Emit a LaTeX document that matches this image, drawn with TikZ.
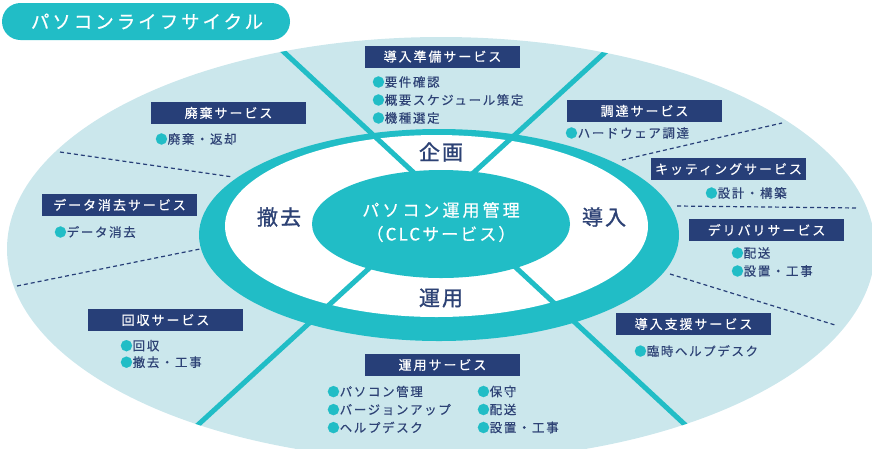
\documentclass[tikz,border=0pt]{standalone}
\usepackage{fontspec}
\setmainfont{Noto Sans CJK JP}
\definecolor{lb}{HTML}{CBE7EC}
\definecolor{tl}{HTML}{21BDC6}
\definecolor{nv}{HTML}{273F78}
\definecolor{tx}{HTML}{2D4275}
\newcommand{\bdot}{\textcolor{tl}{●}}
\tikzset{
  boxlbl/.style={fill=nv, text=white, minimum width=155pt, minimum height=22pt, inner sep=0pt,
    font=\fontsize{13}{13}\selectfont\addfontfeatures{LetterSpace=15,FakeBold=0.5}},
  bul/.style={anchor=west, text=tx, inner sep=0pt, align=left,
    font=\fontsize{12.5}{18}\selectfont\addfontfeatures{LetterSpace=13,FakeBold=0.4}},
  bigl/.style={text=tx, inner sep=0pt, font=\fontsize{21}{21}\selectfont\addfontfeatures{LetterSpace=10,FakeBold=1.2}},
  dline/.style={nv, line width=1.2pt, dash pattern=on 4pt off 3pt},
  tline/.style={tl, line width=5pt},
}
\begin{document}
\begin{tikzpicture}[x=1pt,y=-1pt]
\useasboundingbox (0,0) rectangle (872,448);
% big light ellipse
\fill[lb] (441,249) ellipse [x radius=434pt, y radius=212pt];
% dashed separators
\coordinate (d1a) at (622,160); \coordinate (d1b) at (782,123);
\coordinate (d2a) at (677,206); \coordinate (d2b) at (858,208);
\coordinate (d3a) at (670,274); \coordinate (d3b) at (835,325);
\coordinate (d4a) at (60,152);  \coordinate (d4b) at (233,177);
\coordinate (d5a) at (17,286);  \coordinate (d5b) at (200,249);
\draw[dline] (d1a) -- (d1b);
\draw[dline] (d2a) -- (d2b);
\draw[dline] (d3a) -- (d3b);
\draw[dline] (d4a) -- (d4b);
\draw[dline] (d5a) -- (d5b);
% teal ring and white interior
\fill[tl] (439,235) ellipse [x radius=240pt, y radius=106pt];
\fill[white] (436.5,226) ellipse [x radius=211.5pt, y radius=91pt];
% teal diagonal lines
\coordinate (l1a) at (250,20.5); \coordinate (l1b) at (730,466.5);
\coordinate (l2a) at (650,11.25); \coordinate (l2b) at (150,468.75);
\begin{scope}
  \clip (441,249) ellipse [x radius=434pt, y radius=212pt];
  \draw[tline] (l1a) -- (l1b);
  \draw[tline] (l2a) -- (l2b);
\end{scope}
% centre ellipse
\fill[tl] (441,224) ellipse [x radius=129pt, y radius=54pt];
\node[text=white, inner sep=0pt, font=\fontsize{17}{17}\selectfont\addfontfeatures{LetterSpace=18,FakeBold=0.4}] (c1) at (441,210) {パソコン運用管理};
\node[text=white, inner sep=0pt, font=\fontsize{17}{17}\selectfont\addfontfeatures{LetterSpace=12,FakeBold=0.4}] (c2) at (441,234) {（CLCサービス）};
% phase labels
\node[bigl] (p1) at (441,152) {企画};
\node[bigl] (p2) at (279,217) {撤去};
\node[bigl] (p3) at (604,217) {導入};
\node[bigl] (p4) at (441,298) {運用};
% title pill
\fill[tl, rounded corners=18.5pt] (2,3) rectangle (290,40);
\node[text=white, inner sep=0pt, font=\fontsize{18.5}{18.5}\selectfont\addfontfeatures{LetterSpace=16,FakeBold=0.5}] (title) at (147,21.5) {パソコンライフサイクル};
% service boxes
\node[boxlbl] (s1) at (442.5,56.5) {導入準備サービス};
\node[boxlbl] (s2) at (644.5,111) {調達サービス};
\node[boxlbl] (s3) at (728.5,169) {キッティングサービス};
\node[boxlbl] (s4) at (766.5,230) {デリバリサービス};
\node[boxlbl] (s5) at (693.5,324) {導入支援サービス};
\node[boxlbl] (s6) at (442.5,365) {運用サービス};
\node[boxlbl] (s7) at (165.5,320) {回収サービス};
\node[boxlbl] (s8) at (119.5,205) {データ消去サービス};
\node[boxlbl] (s9) at (228.5,113) {廃棄サービス};
% bullet items
\node[bul] (b1) at (372,100) {\bdot 要件確認\\\bdot 概要スケジュール策定\\\bdot 機種選定};
\node[bul] (b2) at (565,133) {\bdot ハードウェア調達};
\node[bul] (b3) at (705,193) {\bdot 設計・構築};
\node[bul] (b4) at (731,262) {\bdot 配送\\\bdot 設置・工事};
\node[bul] (b5) at (634,351) {\bdot 臨時ヘルプデスク};
\node[bul] (b6) at (327,409.5) {\bdot パソコン管理\\\bdot バージョンアップ\\\bdot ヘルプデスク};
\node[bul] (b7) at (477,409.5) {\bdot 保守\\\bdot 配送\\\bdot 設置・工事};
\node[bul, font=\fontsize{12.5}{16.5}\selectfont\addfontfeatures{LetterSpace=13,FakeBold=0.4}] (b8) at (120,354) {\bdot 回収\\\bdot 撤去・工事};
\node[bul] (b9) at (54,232) {\bdot データ消去};
\node[bul] (b10) at (155,139) {\bdot 廃棄・返却};
\end{tikzpicture}
\end{document}
